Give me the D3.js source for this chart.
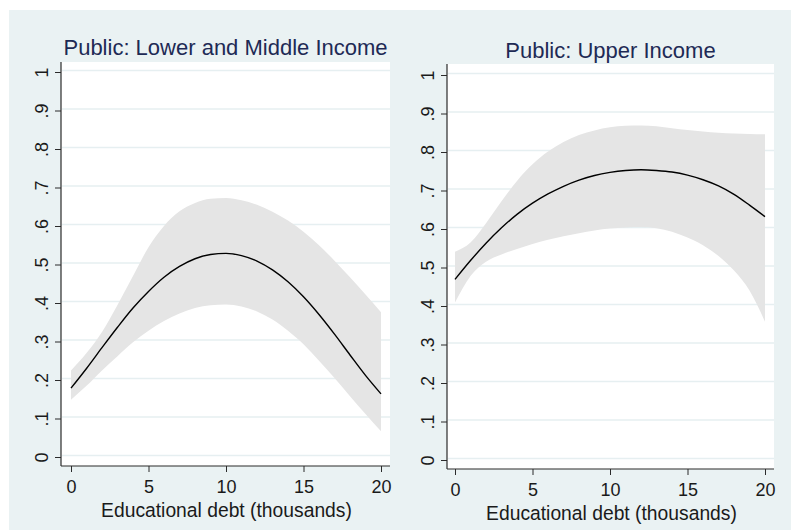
<!DOCTYPE html>
<html>
<head>
<meta charset="utf-8">
<script src="https://cdn.jsdelivr.net/npm/d3@7"></script>
<style>
  html, body { margin: 0; padding: 0; background: #ffffff; }
  svg { display: block; }
  text { font-family: "Liberation Sans", Arial, Helvetica, sans-serif; }
</style>
</head>
<body>
<svg id="chart" width="791" height="531"></svg>
<script>
// Educational debt, in thousands of dollars
const debt = [0, 1, 2, 3, 4, 5, 6, 7, 8, 9, 10, 11, 12, 13, 14, 15, 16, 17, 18, 19, 20];

// Predicted probability with 95% confidence band: lower and middle income
const lowMidFit   = [0.179, 0.230, 0.284, 0.337, 0.387, 0.430, 0.467, 0.495, 0.515, 0.526, 0.529, 0.523, 0.509, 0.486, 0.455, 0.416, 0.370, 0.319, 0.265, 0.212, 0.164];
const lowMidLower = [0.149, 0.185, 0.225, 0.262, 0.298, 0.328, 0.353, 0.373, 0.387, 0.394, 0.396, 0.391, 0.378, 0.357, 0.328, 0.293, 0.250, 0.205, 0.158, 0.112, 0.067];
const lowMidUpper = [0.225, 0.270, 0.325, 0.395, 0.470, 0.545, 0.600, 0.638, 0.660, 0.671, 0.673, 0.667, 0.655, 0.637, 0.614, 0.585, 0.550, 0.510, 0.467, 0.422, 0.376];

// Predicted probability with 95% confidence band: upper income
const upperFit   = [0.469, 0.518, 0.563, 0.603, 0.638, 0.667, 0.691, 0.711, 0.727, 0.739, 0.747, 0.752, 0.754, 0.752, 0.748, 0.740, 0.728, 0.712, 0.690, 0.662, 0.632];
const upperLower = [0.409, 0.478, 0.515, 0.534, 0.548, 0.561, 0.572, 0.581, 0.589, 0.596, 0.601, 0.604, 0.605, 0.602, 0.593, 0.578, 0.558, 0.530, 0.492, 0.440, 0.359];
const upperUpper = [0.541, 0.565, 0.615, 0.672, 0.725, 0.768, 0.801, 0.826, 0.844, 0.856, 0.864, 0.868, 0.869, 0.867, 0.862, 0.857, 0.853, 0.850, 0.848, 0.847, 0.846];

const panelTitles = ["Public: Lower and Middle Income", "Public: Upper Income"];
const xAxisTitle = "Educational debt (thousands)";
const xTicks = [0, 5, 10, 15, 20];
const yTicks = [0, 0.1, 0.2, 0.3, 0.4, 0.5, 0.6, 0.7, 0.8, 0.9, 1];
const yTickLabels = ["0", ".1", ".2", ".3", ".4", ".5", ".6", ".7", ".8", ".9", "1"];

const BG = "#eaf2f3";
const GRID = "#e6eff1";
const BAND = "#e5e5e5";
const TITLE = "#1e2a55";
const AXIS = "#2b2b2b";
const LABEL = "#1a1a1a";

const svg = d3.select("#chart");

// outer graph background
svg.append("rect")
  .attr("x", 9).attr("y", 10).attr("width", 782).attr("height", 520)
  .attr("fill", BG);

// geometry of each panel's plot region
const panels = [
  { title: panelTitles[0], fit: lowMidFit, lo: lowMidLower, hi: lowMidUpper,
    left: 61, right: 390, top: 62, bottom: 466,
    x0: 71, x1: 381, y0: 457, y1: 72, titleY: 55 },
  { title: panelTitles[1], fit: upperFit, lo: upperLower, hi: upperUpper,
    left: 447, right: 774, top: 64, bottom: 469,
    x0: 455, x1: 765, y0: 460, y1: 75, titleY: 58 }
];

panels.forEach(p => {
  const g = svg.append("g");
  const x = d3.scaleLinear().domain([0, 20]).range([p.x0, p.x1]);
  const y = d3.scaleLinear().domain([0, 1]).range([p.y0, p.y1]);

  // plot region
  g.append("rect")
    .attr("x", p.left).attr("y", p.top)
    .attr("width", p.right - p.left).attr("height", p.bottom - p.top)
    .attr("fill", "#ffffff");

  // horizontal grid lines
  g.append("g").selectAll("line")
    .data(yTicks)
    .join("line")
    .attr("x1", p.left + 1).attr("x2", p.right)
    .attr("y1", d => y(d) - 1.5).attr("y2", d => y(d) - 1.5)
    .attr("stroke", GRID).attr("stroke-width", 1.3);

  const rows = debt.map((d, i) => ({ d, fit: p.fit[i], lo: p.lo[i], hi: p.hi[i] }));

  // confidence band
  g.append("path")
    .datum(rows)
    .attr("fill", BAND)
    .attr("d", d3.area()
      .x(r => x(r.d))
      .y0(r => y(r.lo))
      .y1(r => y(r.hi))
      .curve(d3.curveMonotoneX));

  // fitted curve
  g.append("path")
    .datum(rows)
    .attr("fill", "none")
    .attr("stroke", "#000000")
    .attr("stroke-width", 1.4)
    .attr("d", d3.line()
      .x(r => x(r.d))
      .y(r => y(r.fit))
      .curve(d3.curveMonotoneX));

  // y axis, labels rotated to read upward
  const yAxis = g.append("g")
    .attr("transform", `translate(${p.left},0)`)
    .call(d3.axisLeft(y)
      .tickValues(yTicks)
      .tickSize(6)
      .tickSizeOuter(0)
      .tickFormat((d, i) => yTickLabels[i]));
  yAxis.select(".domain").remove();
  yAxis.selectAll(".tick line").attr("stroke", AXIS);
  yAxis.selectAll(".tick text")
    .attr("x", 0).attr("y", -13.5).attr("dy", null)
    .attr("transform", "rotate(-90)")
    .attr("text-anchor", "middle")
    .attr("fill", LABEL)
    .style("font-size", "18px");

  // x axis
  const xAxis = g.append("g")
    .attr("transform", `translate(0,${p.bottom})`)
    .call(d3.axisBottom(x)
      .tickValues(xTicks)
      .tickSize(6)
      .tickSizeOuter(0)
      .tickPadding(8));
  xAxis.select(".domain").remove();
  xAxis.selectAll(".tick line").attr("stroke", AXIS);
  xAxis.selectAll(".tick text")
    .attr("fill", LABEL)
    .style("font-size", "18px");

  // axis lines spanning the plot region
  g.append("line")
    .attr("x1", p.left).attr("x2", p.left)
    .attr("y1", p.top).attr("y2", p.bottom)
    .attr("stroke", AXIS).attr("stroke-width", 1.2);
  g.append("line")
    .attr("x1", p.left).attr("x2", p.right)
    .attr("y1", p.bottom).attr("y2", p.bottom)
    .attr("stroke", AXIS).attr("stroke-width", 1.2);

  // panel title
  g.append("text")
    .attr("x", (p.left + p.right) / 2)
    .attr("y", p.titleY)
    .attr("text-anchor", "middle")
    .attr("fill", TITLE)
    .style("font-size", "22px")
    .text(p.title);

  // x axis title
  g.append("text")
    .attr("x", (p.left + p.right) / 2 + 1)
    .attr("y", p.bottom + 51)
    .attr("text-anchor", "middle")
    .attr("fill", LABEL)
    .style("font-size", "19.3px")
    .text(xAxisTitle);
});
</script>
</body>
</html>
